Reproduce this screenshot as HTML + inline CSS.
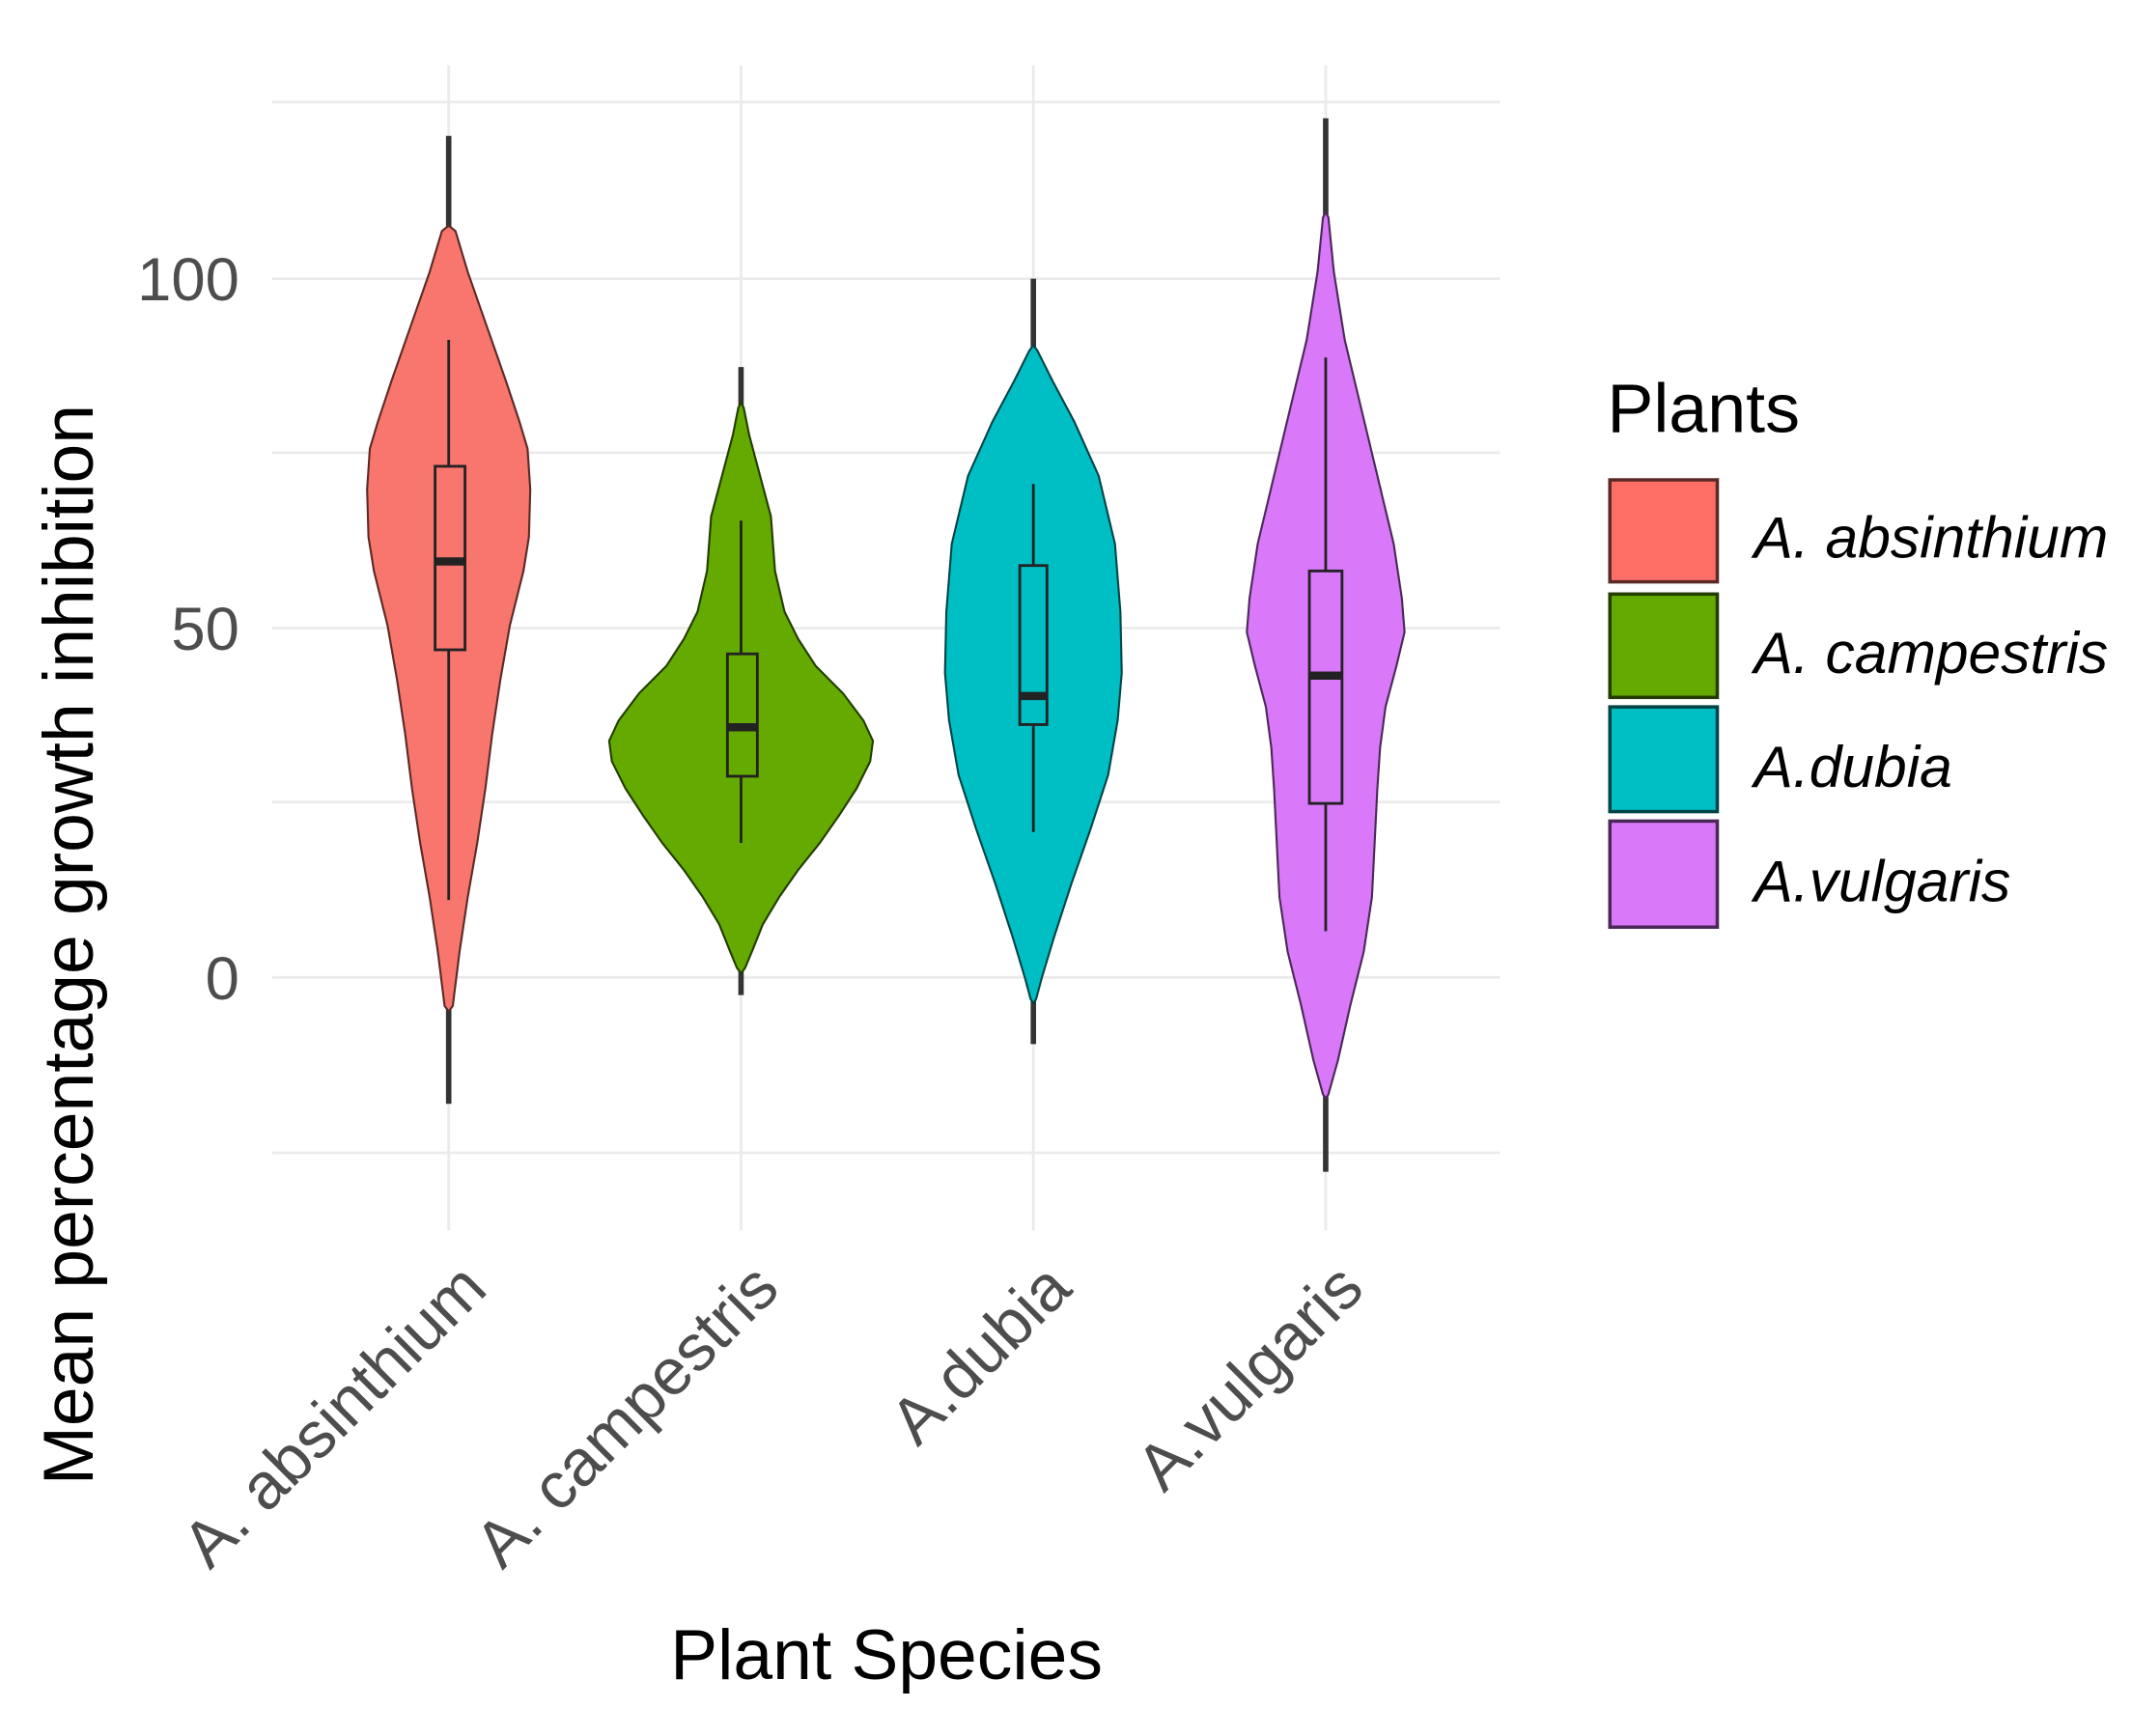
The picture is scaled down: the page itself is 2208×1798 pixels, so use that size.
<!DOCTYPE html>
<html><head><meta charset="utf-8"><style>
html,body{margin:0;padding:0;background:#fff;}
svg{display:block;}
</style></head><body>
<svg width="2208" height="1798" viewBox="0 0 1568 1277" preserveAspectRatio="none" xmlns="http://www.w3.org/2000/svg" font-family="Liberation Sans, sans-serif">
<rect width="1568" height="1277" fill="#fff"/>
<g stroke="#ebebeb" stroke-width="2">
<line x1="200" y1="75" x2="1103" y2="75"/>
<line x1="200" y1="205" x2="1103" y2="205"/>
<line x1="200" y1="333" x2="1103" y2="333"/>
<line x1="200" y1="462" x2="1103" y2="462"/>
<line x1="200" y1="590" x2="1103" y2="590"/>
<line x1="200" y1="719" x2="1103" y2="719"/>
<line x1="200" y1="848" x2="1103" y2="848"/>
<line x1="330" y1="48" x2="330" y2="905"/>
<line x1="545" y1="48" x2="545" y2="905"/>
<line x1="760" y1="48" x2="760" y2="905"/>
<line x1="975" y1="48" x2="975" y2="905"/>
</g>
<g font-size="45" fill="#4d4d4d" text-anchor="end">
<text x="176" y="221">100</text>
<text x="176" y="478">50</text>
<text x="176" y="735">0</text>
</g>
<g stroke="#333" stroke-width="4">
<line x1="330" y1="100" x2="330" y2="812"/>
<line x1="545" y1="270" x2="545" y2="732"/>
<line x1="760" y1="205" x2="760" y2="768"/>
<line x1="975" y1="87" x2="975" y2="862"/>
</g>
<g stroke-width="1.5" stroke-linejoin="round">
<polygon fill="#F8766D" stroke="#5a2a26" points="330,166 335,170 344,200 358,240 372,280 382,310 388,330 390,360 389,395 385,420 375,460 368,500 362,540 357,580 351,620 344,660 338,700 333,740 330,744 327,740 322,700 316,660 309,620 303,580 298,540 292,500 285,460 275,420 271,395 270,360 272,330 278,310 288,280 302,240 316,200 325,170"/>
<polygon fill="#64AA00" stroke="#233c00" points="545,296 547,300 551,320 559,350 567,380 570,420 577,450 587,470 600,490 620,510 635,530 642,545 640,560 630,580 617,600 603,620 587,640 573,660 561,680 553,700 548,712 545,716 542,712 537,700 529,680 517,660 503,640 487,620 473,600 460,580 450,560 448,545 455,530 470,510 490,490 503,470 513,450 520,420 523,380 531,350 539,320 543,300"/>
<polygon fill="#00BFC4" stroke="#004446" points="760,254 763,258 774,280 790,310 808,350 820,400 824,450 825,495 822,530 815,570 802,610 788,650 775,690 766,720 762,735 760,738 758,735 754,720 745,690 732,650 718,610 705,570 698,530 695,495 696,450 700,400 712,350 730,310 746,280 757,258"/>
<polygon fill="#D978F9" stroke="#4a2858" points="975,156 977,160 981,200 989,250 1001,300 1013,350 1025,400 1031,440 1033,465 1027,490 1019,520 1015,550 1013,580 1011,620 1009,660 1003,700 993,740 984,780 977,805 975,808 973,805 966,780 957,740 947,700 941,660 939,620 937,580 935,550 931,520 923,490 917,465 919,440 925,400 937,350 949,300 961,250 969,200 973,160"/>
</g>
<g stroke="#222" stroke-width="2">
<line x1="330" y1="250" x2="330" y2="662"/>
<rect x="320" y="343" width="22" height="135" fill="#F8766D"/>
<line x1="545" y1="383" x2="545" y2="620"/>
<rect x="535" y="481" width="22" height="90" fill="#64AA00"/>
<line x1="760" y1="356" x2="760" y2="612"/>
<rect x="750" y="416" width="20" height="117" fill="#00BFC4"/>
<line x1="975" y1="263" x2="975" y2="685"/>
<rect x="963" y="420" width="24" height="171" fill="#D978F9"/>
</g>
<g stroke="#222" stroke-width="6">
<line x1="320" y1="413" x2="342" y2="413"/>
<line x1="535" y1="535" x2="557" y2="535"/>
<line x1="750" y1="512" x2="770" y2="512"/>
<line x1="963" y1="497" x2="987" y2="497"/>
</g>
<g font-size="48" fill="#4d4d4d" text-anchor="end">
<text transform="translate(360,950) rotate(-45)">A. absinthium</text>
<text transform="translate(575,950) rotate(-45)">A. campestris</text>
<text transform="translate(790,950) rotate(-45)">A.dubia</text>
<text transform="translate(1005,950) rotate(-45)">A.vulgaris</text>
</g>
<text x="652" y="1235" font-size="52" fill="#000" text-anchor="middle">Plant Species</text>
<text transform="translate(68,695) rotate(-90)" font-size="52" fill="#000" text-anchor="middle">Mean percentage growth inhibition</text>
<text x="1182" y="318" font-size="51" fill="#000">Plants</text>
<g stroke-width="2.5">
<rect x="1184" y="353" width="79" height="75" fill="#FF6F65" stroke="#5a2a26"/>
<rect x="1184" y="437" width="79" height="76" fill="#64AA00" stroke="#233c00"/>
<rect x="1184" y="520" width="79" height="77" fill="#00BFC4" stroke="#004446"/>
<rect x="1184" y="604" width="79" height="78" fill="#D978F9" stroke="#4a2858"/>
</g>
<g font-size="43" font-style="italic" fill="#000">
<text x="1290" y="410">A. absinthium</text>
<text x="1290" y="495">A. campestris</text>
<text x="1290" y="579">A.dubia</text>
<text x="1290" y="663">A.vulgaris</text>
</g>
</svg>
</body></html>
